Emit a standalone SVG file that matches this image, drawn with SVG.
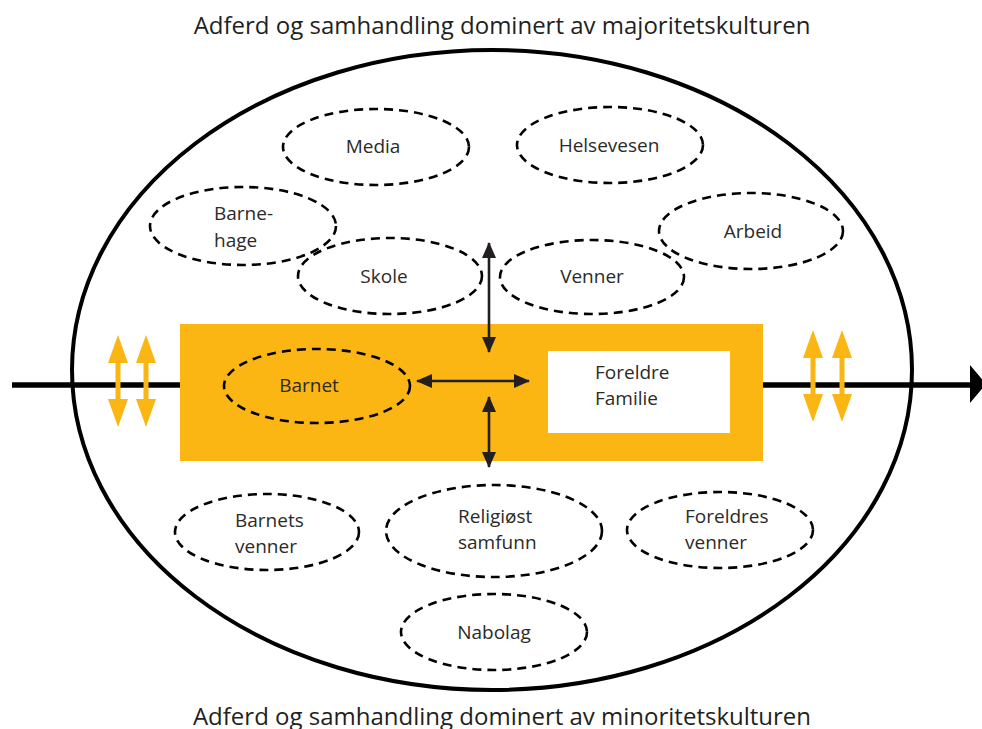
<svg xmlns="http://www.w3.org/2000/svg" width="982" height="729" viewBox="0 0 982 729">
<style>
  .t { font-family: "Open Sans", "Liberation Sans", sans-serif; font-size: 19px; fill: #2b2a29; }
  .title { font-family: "Open Sans", "Liberation Sans", sans-serif; font-size: 24px; fill: #231f20; }
  .dash { fill: none; stroke: #000; stroke-width: 2.6; stroke-dasharray: 9 6; }
  .yarrow { fill: #FBB614; }
  .barrow { stroke: #231f20; stroke-width: 2.6; fill: none; }
</style>
<defs>
  <marker id="ah" viewBox="0 0 16 14" refX="15" refY="7" markerWidth="16" markerHeight="14" markerUnits="userSpaceOnUse" orient="auto-start-reverse">
    <path d="M0,0 L16,7 L0,14 Z" fill="#231f20"/>
  </marker>
</defs>
<rect width="982" height="729" fill="#fff"/>

<text class="title" x="502" y="34" text-anchor="middle">Adferd og samhandling dominert av majoritetskulturen</text>
<text class="title" x="502" y="725" text-anchor="middle">Adferd og samhandling dominert av minoritetskulturen</text>

<g id="outer">
  <ellipse cx="492" cy="370" rx="420" ry="320" fill="none" stroke="#000" stroke-width="4"/>
</g>

<g id="axis">
  <line x1="12" y1="385" x2="972" y2="385" stroke="#000" stroke-width="5.5"/>
  <polygon points="970,365 986,384 970,403" fill="#000"/>
</g>

<g id="core">
  <rect x="180" y="324" width="583" height="137" fill="#FBB614"/>
  <rect x="548" y="351" width="182" height="82" fill="#fff"/>
</g>

<g id="media"><ellipse class="dash" cx="376" cy="147" rx="93" ry="38"/><text class="t" x="373" y="153" text-anchor="middle">Media</text></g>
<g id="helsevesen"><ellipse class="dash" cx="610" cy="145" rx="93" ry="38"/><text class="t" x="609" y="152" text-anchor="middle">Helsevesen</text></g>
<g id="barnehage"><ellipse class="dash" cx="243" cy="226" rx="93" ry="39"/><text class="t" x="214" y="220">Barne-</text><text class="t" x="214" y="247">hage</text></g>
<g id="arbeid"><ellipse class="dash" cx="751" cy="231" rx="92" ry="38"/><text class="t" x="753" y="238" text-anchor="middle">Arbeid</text></g>
<g id="skole"><ellipse class="dash" cx="390" cy="276" rx="92" ry="38"/><text class="t" x="384" y="283" text-anchor="middle">Skole</text></g>
<g id="venner"><ellipse class="dash" cx="592" cy="277" rx="92" ry="37"/><text class="t" x="592" y="283" text-anchor="middle">Venner</text></g>
<g id="barnet"><ellipse class="dash" cx="317" cy="386" rx="93" ry="37"/><text class="t" x="309" y="392" text-anchor="middle">Barnet</text></g>
<g id="foreldre"><text class="t" x="595" y="379">Foreldre</text><text class="t" x="595" y="405">Familie</text></g>
<g id="barnets-venner"><ellipse class="dash" cx="267" cy="532" rx="92" ry="38"/><text class="t" x="235" y="527">Barnets</text><text class="t" x="235" y="553">venner</text></g>
<g id="religiost"><ellipse class="dash" cx="494" cy="531" rx="108" ry="46"/><text class="t" x="458" y="523">Religiøst</text><text class="t" x="458" y="549">samfunn</text></g>
<g id="foreldres-venner"><ellipse class="dash" cx="720" cy="530" rx="93" ry="38"/><text class="t" x="685" y="523">Foreldres</text><text class="t" x="685" y="549">venner</text></g>
<g id="nabolag"><ellipse class="dash" cx="494" cy="632" rx="93" ry="38"/><text class="t" x="494" y="639" text-anchor="middle">Nabolag</text></g>

<g id="connectors">
  <line class="barrow" x1="489" y1="243" x2="489" y2="352" marker-start="url(#ah)" marker-end="url(#ah)"/>
  <line class="barrow" x1="489" y1="397" x2="489" y2="467" marker-start="url(#ah)" marker-end="url(#ah)"/>
  <line class="barrow" x1="417" y1="381" x2="529" y2="381" marker-start="url(#ah)" marker-end="url(#ah)"/>
  <polygon class="yarrow" points="118,335 128,363 120.5,363 120.5,399 128,399 118,427 108,399 115.5,399 115.5,363 108,363"/>
  <polygon class="yarrow" points="146,335 156,363 148.5,363 148.5,399 156,399 146,427 136,399 143.5,399 143.5,363 136,363"/>
  <polygon class="yarrow" points="813,330 823,358 815.5,358 815.5,394 823,394 813,422 803,394 810.5,394 810.5,358 803,358"/>
  <polygon class="yarrow" points="842,330 852,358 844.5,358 844.5,394 852,394 842,422 832,394 839.5,394 839.5,358 832,358"/>
</g>
</svg>
